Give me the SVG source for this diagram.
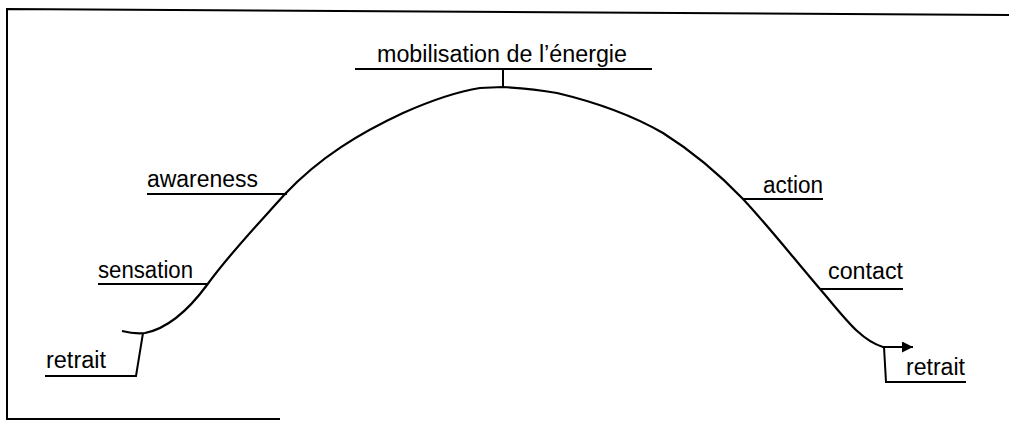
<svg xmlns="http://www.w3.org/2000/svg" width="1009" height="422" viewBox="0 0 1009 422">
<style>
.t{font-family:"Liberation Sans",Arial,sans-serif;font-size:23px;fill:#000}
.l{stroke:#000;stroke-width:2;fill:none}
.c{stroke:#000;stroke-width:2.2;fill:none}
</style>
<defs>
<marker id="ah" markerWidth="14" markerHeight="14" refX="11" refY="5.5" orient="auto" markerUnits="userSpaceOnUse">
<path d="M0,0 L11,5.5 L0,11 z" fill="#000"/>
</marker>
</defs>
<rect width="1009" height="422" fill="#fff"/>
<g id="frame">
<path class="l" d="M1009,15 L7,9 L7,419 L280,419"/>
</g>
<g id="connectors">
<path class="c" d="M122,331 C130,333 137,334 145,333 C170,328 190,308 207,285 C230,253 260,222 285,194 C320,157 360,133 403,113 C430,101 455,92 480,88 L503,87 C520,88 540,90 557,93 C595,102 630,114 663,133 C690,150 720,175 743,199 C770,228 795,260 820,289 C845,318 860,340 883,347 L913,347" marker-end="url(#ah)"/>
</g>
<g id="mobilisation">
<text class="t" x="377" y="62" textLength="250" lengthAdjust="spacingAndGlyphs">mobilisation de l’énergie</text>
<path class="l" d="M355,69 L652,69 M503,69 L503,87"/>
</g>
<g id="awareness">
<text class="t" x="147" y="187" textLength="111" lengthAdjust="spacingAndGlyphs">awareness</text>
<path class="l" d="M147,194 L287,194"/>
</g>
<g id="sensation">
<text class="t" x="98" y="278" textLength="95" lengthAdjust="spacingAndGlyphs">sensation</text>
<path class="l" d="M98,284 L208,284"/>
</g>
<g id="action">
<text class="t" x="763" y="193" textLength="60" lengthAdjust="spacingAndGlyphs">action</text>
<path class="l" d="M743,199 L823,199"/>
</g>
<g id="contact">
<text class="t" x="828" y="279" textLength="75" lengthAdjust="spacingAndGlyphs">contact</text>
<path class="l" d="M820,289 L903,289"/>
</g>
<g id="retrait-left">
<text class="t" x="46" y="368" textLength="60" lengthAdjust="spacingAndGlyphs">retrait</text>
<path class="l" d="M45,376 L136,376 L143,333"/>
</g>
<g id="retrait-right">
<text class="t" x="906" y="375" textLength="59" lengthAdjust="spacingAndGlyphs">retrait</text>
<path class="l" d="M884,347 L886,382 L966,382"/>
</g>
</svg>
